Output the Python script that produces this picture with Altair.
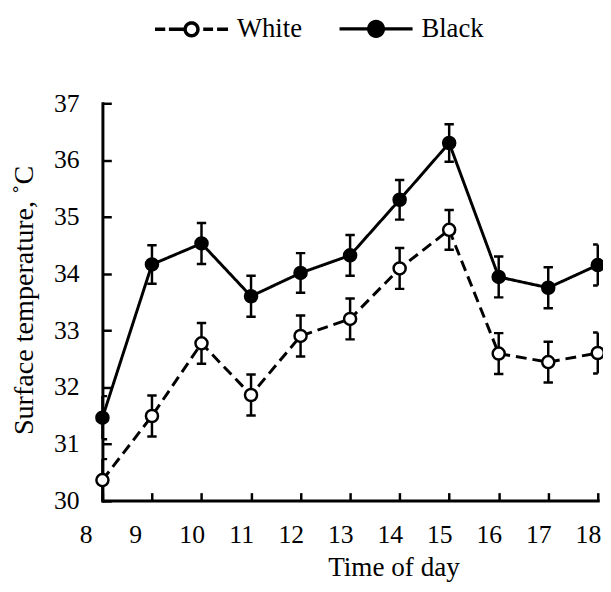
import math
import altair as alt
import pandas as pd

# ---- data ----
hours = [8, 9, 10, 11, 12, 13, 14, 15, 16, 17, 18]
white = [30.36, 31.49, 32.77, 31.86, 32.90, 33.20, 34.09, 34.77, 32.59, 32.44, 32.60]
black = [31.46, 34.16, 34.53, 33.60, 34.01, 34.32, 35.30, 36.30, 33.94, 33.75, 34.15]
white_err = [0.37, 0.36, 0.36, 0.36, 0.36, 0.36, 0.36, 0.35, 0.36, 0.36, 0.36]
black_err = [0.38, 0.34, 0.36, 0.36, 0.35, 0.36, 0.35, 0.33, 0.36, 0.36, 0.36]
series = ["White", "Black"]
x_ticks = list(range(8, 19))
y_ticks = list(range(30, 38))

rows = []
for name, vals, errs in [("White", white, white_err), ("Black", black, black_err)]:
    for h, v, e in zip(hours, vals, errs):
        rows.append({"hour": h, "temp": v, "lo": v - e, "hi": v + e, "series": name})
df = pd.DataFrame(rows)

FONT = "Liberation Serif"
FS = 26
W, H = 502, 402.6
PL, PT = 95.7, 92.7
SVG_W, SVG_H = 603, 576


def ring(r, n=28):
    pts = [(r * math.cos(2 * math.pi * k / n), r * math.sin(2 * math.pi * k / n)) for k in range(n)]
    return "M" + "L".join(f"{x:.4f},{y:.4f}" for x, y in pts) + "Z"


# legend glyphs (line + marker), unit coordinates in [-1, 1]
path_white = "M-1,0L-0.72,0M-0.62,0L-0.22,0M0.32,0L0.59,0M0.7,0L1,0" + ring(0.176)
path_black = "M-1,0L1,0" + ring(0.2) + ring(0.13) + ring(0.06, 14)
SYM = 74

is_white = "datum.series == 'White'"
base = alt.Chart(df)

x_main = alt.X("hour:Q", scale=alt.Scale(domain=[8, 18], nice=False, zero=False), title="Time of day",
               axis=alt.Axis(orient="bottom", values=x_ticks, ticks=False, tickSize=0,
                             labelPadding=22, labelFont=FONT, labelFontSize=FS, labelFlush=False,
                             labelColor="black",
                             labelOffset={"condition": {"test": "datum.value < 10", "value": -17}, "value": -10},
                             domainColor="black", domainWidth=3, domainCap="square", grid=False,
                             titleFont=FONT, titleFontSize=27.5, titleFontWeight="normal",
                             titleColor="black", titleX=295, titleY=75.5,
                             titleBaseline="alphabetic", titleAlign="center"))
y_main = alt.Y("temp:Q", scale=alt.Scale(domain=[30, 37], nice=False, zero=False),
               title="Surface temperature, ˚C",
               axis=alt.Axis(orient="left", values=y_ticks, ticks=False, tickSize=0,
                             labelPadding=23.7, labelFont=FONT, labelFontSize=FS, labelFlush=False,
                             labelColor="black", domainColor="black", domainWidth=3,
                             domainCap="square", grid=False,
                             titleFont=FONT, titleFontSize=28.5, titleFontWeight="normal",
                             titleColor="black", titleX=-70.7, titleY=199.3, titleAngle=-90,
                             titleBaseline="alphabetic", titleAlign="center"))

lines = base.mark_line(color="black", strokeWidth=3).encode(
    x=x_main, y=y_main,
    strokeDash=alt.condition(is_white, alt.value([11, 6]), alt.value([1, 0])),
    detail="series:N",
)

rules = base.mark_rule(color="black", strokeWidth=2.5).encode(
    x=alt.X("hour:Q", axis=None), y=alt.Y("lo:Q", axis=None), y2="hi:Q",
)
caps_lo = base.mark_tick(color="black", orient="horizontal", size=9.5, thickness=2.5, opacity=1, clip=True).encode(
    x=alt.X("hour:Q", axis=None), y=alt.Y("lo:Q", axis=None),
)
caps_hi = base.mark_tick(color="black", orient="horizontal", size=9.5, thickness=2.5, opacity=1, clip=True).encode(
    x=alt.X("hour:Q", axis=None), y=alt.Y("hi:Q", axis=None),
)

points = base.mark_point(shape="circle", filled=True, stroke="black", strokeWidth=2.5, size=150, opacity=1).encode(
    x=alt.X("hour:Q", axis=None),
    y=alt.Y("temp:Q", axis=None),
    fill=alt.condition(is_white, alt.value("white"), alt.value("black")),
)

# layer that carries the legend and the inward-pointing tick axes (its marks sit outside the clip)
legend_layer = base.transform_calculate(away="datum.hour + 100").mark_point(
    filled=False, color="black", stroke="black", strokeWidth=3.5, opacity=1, clip=True
).encode(
    x=alt.X("away:Q",
            axis=alt.Axis(orient="top", offset=-H, values=x_ticks, labels=False, domain=False,
                          ticks=True, tickSize=8, tickWidth=2.5, tickColor="black", grid=False, title=None)),
    y=alt.Y("temp:Q",
            axis=alt.Axis(orient="right", offset=-W, values=y_ticks, labels=False, domain=False,
                          ticks=True, tickSize=9, tickWidth=2.5, tickColor="black", grid=False, title=None)),
    shape=alt.Shape("series:N", scale=alt.Scale(domain=series, range=[path_white, path_black]),
                    legend=alt.Legend(title=None, orient="none", legendX=51.3, legendY=-114.7,
                                      direction="horizontal", columns=2, columnPadding=31,
                                      labelOffset=7, labelFont=FONT, labelFontSize=27,
                                      labelColor="black", symbolSize=SYM * SYM,
                                      symbolStrokeWidth=3.5, symbolStrokeColor="black",
                                      symbolOpacity=1, padding=0)),
)

chart = alt.layer(lines, rules, caps_lo, caps_hi, points, legend_layer).resolve_axis(
    x="independent", y="independent"
).properties(
    width=W, height=H,
    autosize=alt.AutoSizeParams(type="none"),
    padding={"left": PL, "top": PT, "right": SVG_W - PL - W, "bottom": SVG_H - PT - H},
    background="white",
).configure_view(stroke=None)

chart.save("out.html", embed_options={"renderer": "svg", "actions": False})
